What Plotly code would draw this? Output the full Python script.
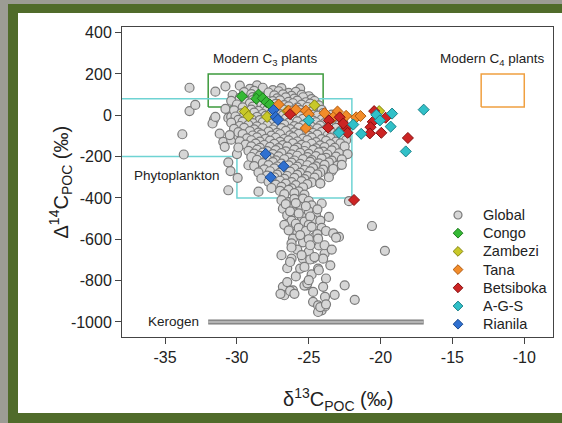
import plotly.graph_objects as go

# ---------------- data ----------------
global_points = [
    (-33.3, 133), (-33.3, 20), (-32.9, 50), (-31.5, 114), (-30.8, 140), (-30.8, 31), (-30.6, -13),
    (-31.6, -21), (-30.1, 68), (-33.8, -92), (-29.8, 143), (-28.6, 145), (-25.6, 129), (-31.7, -40),
    (-31.2, -89), (-30.95, -129), (-30.85, -153), (-33.7, -190), (-30.0, -188), (-30.6, -228),
    (-30.45, -270), (-29.95, -303), (-29.2, -242), (-30.6, -363), (-28.5, -370), (-30.1, -57),
    (-30.4, -118), (-29.9, -102), (-30.4, -8), (-31.5, -8),
    (-29.1, 128), (-28.2, 133), (-27.5, 122), (-26.9, 131),
    (-29.5, 112), (-28.8, 118), (-27.8, 110), (-27.1, 116), (-26.4, 108), (-25.9, 113),
    (-30.3, 98), (-29.0, 102), (-27.4, 96), (-26.8, 101), (-26.2, 94), (-25.5, 99), (-25.0, 92),
    (-29.8, 84), (-28.9, 88), (-27.2, 82), (-26.6, 86), (-26.0, 80), (-25.4, 87), (-24.8, 78),
    (-30.4, 70), (-29.4, 66), (-28.9, 73), (-27.5, 68), (-27.0, 72), (-26.4, 65), (-25.8, 71), (-25.2, 63), (-24.6, 69),
    (-30.0, 52), (-29.1, 57), (-28.3, 50), (-27.3, 55), (-26.7, 49), (-26.1, 58), (-25.5, 51), (-24.9, 56), (-24.3, 48),
    (-29.6, 38), (-28.9, 42), (-28.1, 36), (-27.6, 41), (-27.0, 34), (-26.4, 43), (-25.8, 37), (-25.1, 40), (-24.5, 33),
    (-30.2, 24), (-29.0, 27), (-28.5, 21), (-27.9, 26), (-27.3, 20), (-26.8, 28), (-26.2, 22), (-25.6, 25), (-24.8, 19), (-24.1, 26),
    (-29.7, 9), (-28.8, 13), (-28.2, 6), (-27.6, 11), (-27.0, 5), (-26.5, 12), (-25.9, 7), (-25.3, 14), (-24.6, 4), (-24.0, 10), (-23.4, 3),
    (-30.1, -6), (-29.5, -2), (-28.6, -8), (-28.0, -3), (-27.4, -9), (-26.8, -1), (-26.2, -7), (-25.6, -4), (-25.0, -10), (-24.4, -2), (-23.7, -8), (-23.1, -4),
    (-29.9, -22), (-29.0, -17), (-28.4, -24), (-27.8, -19), (-27.2, -25), (-26.6, -16), (-26.0, -23), (-25.4, -18), (-24.7, -26), (-24.1, -20), (-23.5, -24), (-22.9, -17),
    (-30.4, -36), (-29.6, -31), (-28.9, -38), (-28.2, -33), (-27.6, -39), (-27.0, -32), (-26.4, -37), (-25.8, -30), (-25.2, -40), (-24.5, -34), (-23.9, -38), (-23.3, -31), (-22.6, -36),
    (-29.8, -52), (-29.2, -47), (-28.6, -54), (-27.9, -49), (-27.3, -55), (-26.7, -46), (-26.0, -53), (-25.4, -48), (-24.8, -56), (-24.2, -50), (-23.6, -54), (-22.9, -47),
    (-30.2, -66), (-29.5, -61), (-28.8, -68), (-28.2, -63), (-27.5, -69), (-26.9, -62), (-26.3, -67), (-25.7, -60), (-25.0, -70), (-24.4, -64), (-23.8, -68), (-23.1, -61), (-22.5, -66),
    (-29.9, -82), (-29.1, -77), (-28.5, -84), (-27.8, -79), (-27.2, -85), (-26.6, -76), (-26.0, -83), (-25.3, -78), (-24.7, -86), (-24.1, -80), (-23.4, -84), (-22.8, -77),
    (-30.5, -96), (-29.6, -91), (-28.9, -98), (-28.3, -93), (-27.6, -99), (-27.0, -92), (-26.3, -97), (-25.7, -90), (-25.0, -100), (-24.4, -94), (-23.7, -98), (-23.0, -91), (-22.4, -96),
    (-29.3, -112), (-28.6, -107), (-28.0, -114), (-27.3, -109), (-26.7, -115), (-26.1, -106), (-25.4, -113), (-24.8, -108), (-24.1, -116), (-23.5, -110), (-22.7, -106),
    (-29.8, -126), (-29.0, -121), (-28.4, -128), (-27.7, -123), (-27.0, -129), (-26.4, -122), (-25.8, -127), (-25.1, -120), (-24.5, -130), (-23.8, -124), (-23.1, -128), (-22.4, -121),
    (-29.4, -142), (-28.7, -137), (-28.1, -144), (-27.4, -139), (-26.8, -145), (-26.1, -136), (-25.5, -143), (-24.8, -138), (-24.2, -146), (-23.5, -140), (-22.8, -136),
    (-29.9, -156), (-29.0, -151), (-28.4, -158), (-27.7, -153), (-27.1, -159), (-26.5, -152), (-25.8, -157), (-25.2, -150), (-24.5, -160), (-23.9, -154), (-23.2, -158), (-22.5, -151),
    (-29.2, -172), (-28.6, -167), (-27.9, -174), (-27.3, -169), (-26.6, -175), (-26.0, -166), (-25.3, -173), (-24.7, -168), (-24.0, -176), (-23.4, -170),
    (-28.8, -186), (-28.2, -181), (-27.5, -188), (-26.9, -183), (-26.2, -189), (-25.6, -182), (-25.0, -187), (-24.3, -180), (-23.7, -190), (-22.9, -184), (-22.3, -188),
    (-29.0, -202), (-28.4, -197), (-27.7, -204), (-27.1, -199), (-26.4, -205), (-25.8, -196), (-25.1, -203), (-24.5, -198), (-23.8, -206), (-23.1, -200),
    (-28.6, -216), (-27.9, -211), (-27.3, -218), (-26.7, -213), (-26.0, -219), (-25.4, -212), (-24.8, -217), (-24.1, -210), (-23.4, -220), (-22.7, -214),
    (-28.2, -232), (-27.5, -227), (-26.9, -234), (-26.2, -229), (-25.6, -235), (-24.9, -226), (-24.3, -233), (-23.6, -228),
    (-28.8, -246), (-27.8, -241), (-27.2, -248), (-26.4, -243), (-25.8, -249), (-25.1, -242), (-24.5, -247), (-23.9, -240), (-23.0, -244),
    (-28.1, -262), (-27.4, -257), (-26.7, -264), (-26.0, -259), (-25.3, -265), (-24.7, -256), (-24.0, -263),
    (-28.5, -276), (-27.7, -271), (-27.0, -278), (-26.3, -273), (-25.6, -279), (-24.9, -272), (-24.2, -277), (-23.4, -270),
    (-27.9, -292), (-27.2, -287), (-26.5, -294), (-25.8, -289), (-25.1, -295), (-24.4, -286),
    (-28.3, -306), (-27.4, -301), (-26.7, -308), (-26.0, -303), (-25.3, -309), (-24.6, -302), (-23.6, -300),
    (-27.8, -322), (-27.0, -317), (-26.2, -324), (-25.5, -319), (-24.8, -325), (-24.2, -330),
    (-27.3, -336), (-26.6, -331), (-25.9, -338), (-25.1, -333),
    (-27.6, -352), (-26.9, -347), (-26.2, -354), (-25.4, -349),
    (-27.0, -366), (-26.4, -361), (-25.7, -368),
    (-26.7, -382), (-26.0, -377), (-25.3, -384),
    (-26.9, -411), (-26.8, -452), (-26.4, -420), (-26.0, -405), (-25.4, -403), (-25.0, -415),
    (-24.8, -436), (-24.1, -427), (-25.7, -440), (-26.2, -445), (-22.2, -416),
    (-26.5, -484), (-26.0, -470), (-25.5, -490), (-25.0, -465), (-24.5, -480), (-23.6, -492),
    (-26.2, -510), (-25.3, -515), (-24.7, -505),
    (-26.6, -430), (-25.9, -425), (-25.2, -440), (-24.4, -455), (-26.3, -465), (-25.7, -475),
    (-24.9, -490), (-24.2, -510), (-26.7, -530), (-25.9, -525), (-25.0, -530), (-24.1, -545),
    (-23.8, -560), (-25.8, -565), (-24.6, -590), (-25.4, -615), (-24.3, -630), (-25.8, -650),
    (-25.0, -660), (-23.9, -670), (-26.5, -740), (-24.8, -770), (-25.9, -780), (-23.8, -790),
    (-26.8, -830), (-24.0, -830),
    (-26.4, -557), (-26.1, -597), (-25.7, -545), (-25.2, -560), (-24.8, -540), (-24.4, -575),
    (-24.8, -613), (-24.35, -597), (-23.3, -572), (-22.9, -589), (-25.6, -580), (-26.2, -620),
    (-20.6, -536), (-23.1, -592), (-25.0, -600),
    (-19.7, -656), (-26.9, -677), (-26.2, -694), (-25.4, -694), (-25.6, -742), (-24.7, -694),
    (-24.0, -694), (-23.5, -726), (-24.35, -742), (-26.3, -710), (-25.5, -677), (-25.3, -734),
    (-24.9, -698), (-24.6, -686), (-24.3, -750), (-23.9, -629), (-24.9, -629), (-26.2, -640), (-23.4, -650),
    (-26.5, -807), (-26.1, -847), (-26.7, -871), (-26.3, -850), (-26.0, -864), (-25.15, -823),
    (-25.3, -824), (-25.1, -813), (-25.0, -798), (-24.7, -855), (-24.7, -903), (-24.35, -920),
    (-24.1, -944), (-24.35, -952), (-23.87, -925), (-24.2, -928), (-23.87, -879), (-23.2, -869),
    (-22.5, -823), (-21.8, -893), (-26.97, -864), (-23.8, -915),
    (-22.7, -240), (-23.3, -260), (-24.2, -330),
]

congo_x = [-29.65, -28.5, -28.65, -28.2, -27.95, -27.7]
congo_y = [92, 100, 80, 82, 64, 52]

zambezi_x = [-29.45, -29.2, -27.9, -26.5, -24.6, -20.1]
zambezi_y = [18, -5, -8, 20, 48, 20]

tana_x = [-27.1, -26.4, -25.9, -25.2, -25.0, -25.2, -23.9, -23.0, -22.4, -21.7, -21.4, -23.3]
tana_y = [52, 22, 27, 22, 5, -62, 10, 18, -3, -10, -4, -10]

betsiboka_x = [-26.3, -23.6, -23.65, -22.85, -22.4, -22.3, -20.45, -20.55, -20.7, -20.75, -19.95, -19.65, -18.1, -21.85, -22.6]
betsiboka_y = [5, -25, -60, -10, -62, -85, 20, -32, -58, -88, -85, -12, -110, -410, -40]

ags_x = [-25.0, -22.9, -21.9, -21.35, -20.3, -20.05, -19.2, -19.3, -17.0, -18.25]
ags_y = [-25, -85, -45, -90, 2, -25, 8, -55, 27, -175]

rianila_x = [-27.45, -27.3, -27.15, -28.0, -26.75, -27.65]
rianila_y = [25, -8, -22, -187, -247, -300]

# reference ranges
c3_x = [-32, -24]
c3_y = [40, 200]
c4_x = [-13, -10]
c4_y = [40, 200]
phyto_x = [-38, -22, -22, -30, -30, -38]
phyto_y = [80, 80, -400, -400, -200, -200]
kerogen_x = [-32, -17]
kerogen_y = [-1000, -1000]

x_ticks = [-35, -30, -25, -20, -15, -10]
y_ticks = [400, 200, 0, -200, -400, -600, -800, -1000]

# ---------------- figure ----------------
FONT = "Arial, Liberation Sans, sans-serif"
TXT = "#222222"
fig = go.Figure()

def box(xs, ys):
    return [xs[0], xs[1], xs[1], xs[0], xs[0]], [ys[0], ys[0], ys[1], ys[1], ys[0]]

bx, by = box(c3_x, c3_y)
fig.add_trace(go.Scatter(x=bx, y=by, mode="lines", line=dict(color="#3c9a3c", width=1.5),
                         showlegend=False, hoverinfo="skip"))
bx, by = box(c4_x, c4_y)
fig.add_trace(go.Scatter(x=bx, y=by, mode="lines", line=dict(color="#f0a040", width=1.5),
                         showlegend=False, hoverinfo="skip"))
fig.add_trace(go.Scatter(x=phyto_x, y=phyto_y, mode="lines", line=dict(color="#6fd3d3", width=1.5),
                         showlegend=False, hoverinfo="skip"))
fig.add_trace(go.Scatter(x=kerogen_x, y=kerogen_y, mode="lines", line=dict(color="#7a7a7a", width=5),
                         showlegend=False, hoverinfo="skip"))
fig.add_trace(go.Scatter(x=kerogen_x, y=kerogen_y, mode="lines", line=dict(color="#b4b4b4", width=2.5),
                         showlegend=False, hoverinfo="skip"))

GLOBAL_STYLE = dict(symbol="circle", color="#d6d6d6", line=dict(color="#7a7a7a", width=1.2))
gx = [p[0] for p in global_points]
gy = [p[1] for p in global_points]
fig.add_trace(go.Scatter(x=gx, y=gy, mode="markers", name="Global", showlegend=False,
                         marker=dict(size=9, **GLOBAL_STYLE)))

series = [
    ("Congo", congo_x, congo_y, "#35b935", "#1e7a1e"),
    ("Zambezi", zambezi_x, zambezi_y, "#c8c828", "#85850f"),
    ("Tana", tana_x, tana_y, "#f28c2a", "#b05a10"),
    ("Betsiboka", betsiboka_x, betsiboka_y, "#cc2424", "#861010"),
    ("A-G-S", ags_x, ags_y, "#31c0c8", "#1a8088"),
    ("Rianila", rianila_x, rianila_y, "#2f70d0", "#1a4a90"),
]
for name, xs, ys, fc, lc in series:
    fig.add_trace(go.Scatter(x=xs, y=ys, mode="markers", name=name, showlegend=False,
                             marker=dict(symbol="diamond", size=8.5, color=fc,
                                         line=dict(color=lc, width=1))))

# ---- legend drawn on an invisible overlay axis (0..1 = plot area) ----
PLOT_L, PLOT_R, PLOT_T, PLOT_B = 122, 553, 27, 337
def px_to_fx(px):
    return (px - PLOT_L) / (PLOT_R - PLOT_L)
def py_to_fy(py):
    return (PLOT_B - py) / (PLOT_B - PLOT_T)

leg_names = ["Global"] + [s[0] for s in series]
leg_mx = px_to_fx(458)
leg_tx = px_to_fx(481)
leg_rows = [py_to_fy(215 + i * 18.2) for i in range(len(leg_names))]

fig.add_trace(go.Scatter(x=[leg_mx], y=[leg_rows[0]], xaxis="x2", yaxis="y2", mode="markers",
                         showlegend=False, hoverinfo="skip",
                         marker=dict(size=8, **GLOBAL_STYLE)))
for i, (name, xs, ys, fc, lc) in enumerate(series, start=1):
    fig.add_trace(go.Scatter(x=[leg_mx], y=[leg_rows[i]], xaxis="x2", yaxis="y2", mode="markers",
                             showlegend=False, hoverinfo="skip",
                             marker=dict(symbol="diamond", size=7.5, color=fc,
                                         line=dict(color=lc, width=1))))

annotations = []
for name, fy in zip(leg_names, leg_rows):
    annotations.append(dict(x=leg_tx, y=fy, xref="paper", yref="paper", text=name,
                            showarrow=False, xanchor="left", yanchor="middle",
                            font=dict(family=FONT, size=14.5, color=TXT)))

annotations += [
    dict(x=-28, y=268, xref="x", yref="y", text="Modern C<sub>3</sub> plants", showarrow=False,
         font=dict(family=FONT, size=13.5, color=TXT)),
    dict(x=-12.2, y=268, xref="x", yref="y", text="Modern C<sub>4</sub> plants", showarrow=False,
         font=dict(family=FONT, size=13.5, color=TXT)),
    dict(x=-34.15, y=-293, xref="x", yref="y", text="Phytoplankton", showarrow=False,
         font=dict(family=FONT, size=13.5, color=TXT)),
    dict(x=-34.45, y=-1000, xref="x", yref="y", text="Kerogen", showarrow=False,
         font=dict(family=FONT, size=13.5, color=TXT)),
    dict(x=0.5, y=-0.255, xref="paper", yref="paper", showarrow=False,
         text="\u03b4<sup>13</sup>C<sub>POC</sub> (\u2030)",
         font=dict(family=FONT, size=20, color=TXT)),
    dict(x=-0.181, y=0.5, xref="paper", yref="paper", showarrow=False, textangle=-90,
         text="\u0394<sup>14</sup>C<sub>POC</sub> (\u2030)",
         font=dict(family=FONT, size=20, color=TXT)),
]

# background frame (paper coordinates)
shapes = [
    dict(type="rect", xref="paper", yref="paper", x0=-0.2645, x1=1.05, y0=-0.30, y1=1.074,
         fillcolor="#506b2a", line=dict(width=0), layer="below"),
    dict(type="rect", xref="paper", yref="paper", x0=-0.2413, x1=1.05, y0=-0.245, y1=1.045,
         fillcolor="white", line=dict(width=0), layer="below"),
]

fig.update_layout(
    width=562, height=423,
    margin=dict(l=PLOT_L, r=562 - PLOT_R, t=PLOT_T, b=423 - PLOT_B),
    paper_bgcolor="#9c9c94",
    plot_bgcolor="white",
    shapes=shapes,
    annotations=annotations,
    showlegend=False,
    font=dict(family=FONT, size=16, color=TXT),
    xaxis=dict(range=[-38, -8], tickvals=x_ticks, ticktext=[str(v) for v in x_ticks],
               ticks="outside", ticklen=6,
               tickcolor="#444", showline=True, linecolor="#444", linewidth=1, mirror=True,
               showgrid=False, zeroline=False, tickfont=dict(size=16, color=TXT)),
    yaxis=dict(range=[-1073, 427], tickvals=y_ticks, ticktext=[str(v) for v in y_ticks],
               ticks="outside", ticklen=6,
               tickcolor="#444", showline=True, linecolor="#444", linewidth=1, mirror=True,
               showgrid=False, zeroline=False, tickfont=dict(size=16, color=TXT)),
    xaxis2=dict(overlaying="x", range=[0, 1], visible=False, fixedrange=True),
    yaxis2=dict(overlaying="y", range=[0, 1], visible=False, fixedrange=True),
)

fig.write_html("out.html", config={"displayModeBar": False},
               post_script="document.body.style.margin='0px';document.body.style.overflow='hidden';")
